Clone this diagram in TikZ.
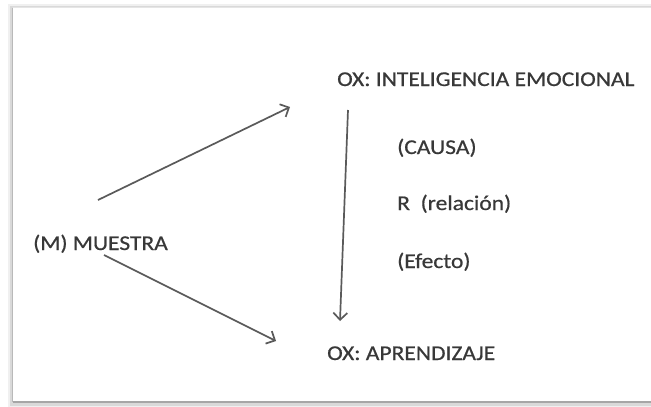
\documentclass[tikz,border=0pt]{standalone}
\usepackage{fontspec}
\setmainfont{Carlito}[FakeStretch=1.12,FakeBold=0.6]
\usetikzlibrary{arrows.meta}
\definecolor{txt}{HTML}{383838}
\definecolor{arr}{HTML}{5A5A5A}
\tikzset{
  lbl/.style={anchor=base west, inner sep=0pt, text=txt, font=\fontsize{21}{25}\selectfont},
  conn/.style={draw=arr, line width=1.7pt, -{Straight Barb[length=7pt,width=14pt,line width=1.7pt]}}
}
\begin{document}
\begin{tikzpicture}[x=1pt,y=-1pt]
\useasboundingbox (0,0) rectangle (651,407);
\fill[white] (0,0) rectangle (651,407);
% frame with shadow
\fill[gray!12] (8,4) rectangle (651,407);
\fill[gray!30] (10,6) rectangle (651,406);
\fill[white] (13,8) rectangle (651,401);
\draw[gray!55, line width=1.2pt] (12.5,8) -- (12.5,401.5);
\draw[gray!70, line width=2.4pt] (12.5,402) -- (651,402);
\draw[gray!20, line width=0.8pt] (13,7.5) -- (651,7.5);
% texts
\node[lbl] (ie) at (337,86) {OX: INTELIGENCIA EMOCIONAL};
\node[lbl] (ap) at (327,360) {OX: APRENDIZAJE};
\node[lbl] (m) at (33,250) {(M) MUESTRA};
\node[lbl] (causa) at (397,154) {(CAUSA)};
\node[lbl] (rel) at (397,210) {R\ \ (relación)};
\node[lbl] (ef) at (397,268) {(Efecto)};
% connector ends
\coordinate (m1) at (98,200);
\coordinate (t1) at (290,107);
\coordinate (m2) at (104,255);
\coordinate (t2) at (276,341);
\coordinate (v1) at (348,110);
\coordinate (v2) at (340,321);
\draw[conn] (m1) -- (t1);
\draw[conn] (m2) -- (t2);
\draw[conn] (v1) -- (v2);
\end{tikzpicture}
\end{document}
